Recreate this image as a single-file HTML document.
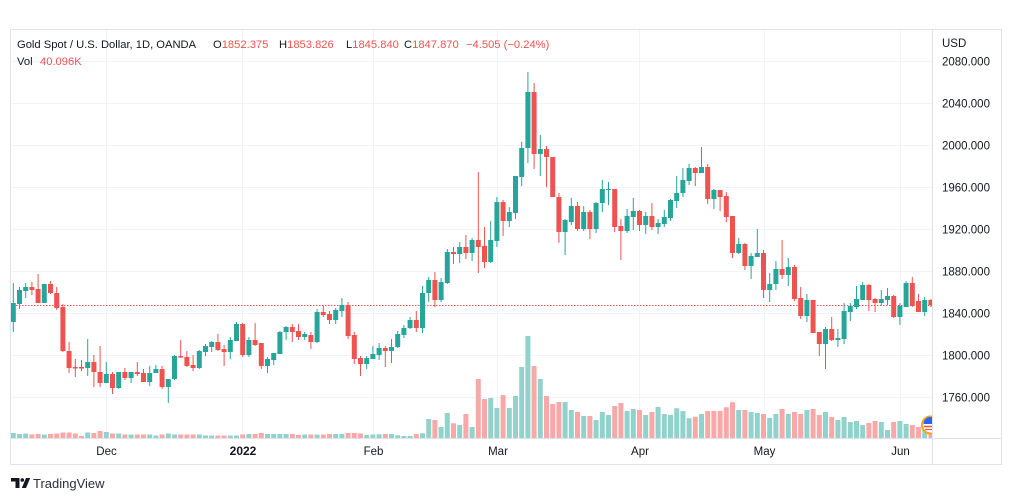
<!DOCTYPE html>
<html><head><meta charset="utf-8"><style>
html,body{margin:0;padding:0;background:#fff;width:1012px;height:501px;overflow:hidden}
svg{display:block;font-family:"Liberation Sans",Arial,sans-serif}
</style></head><body>
<svg width="1012" height="501" viewBox="0 0 1012 501" xmlns="http://www.w3.org/2000/svg">
<defs><clipPath id="pane"><rect x="10" y="29" width="922" height="409"/></clipPath></defs>
<rect width="1012" height="501" fill="#fff"/>
<g stroke="#f0f3fa" stroke-width="1" fill="none">
<path d="M10 61.5H932M10 103.5H932M10 145.5H932M10 187.5H932M10 229.5H932M10 271.5H932M10 313.5H932M10 355.5H932M10 397.5H932"/>
<path d="M106.5 29V438M242.5 29V438M373.5 29V438M497.5 29V438M639.5 29V438M764.5 29V438M900.5 29V438"/>
</g>
<g clip-path="url(#pane)">
<path fill="#92d2cc" d="M10.8 433h5V438h-5zM17 434h5V438h-5zM23.2 433.5h5V438h-5zM41.8 434.5h5V438h-5zM85.2 432.5h5V438h-5zM103.8 432h5V438h-5zM116.2 433.5h5V438h-5zM128.6 434.5h5V438h-5zM147.2 434.5h5V438h-5zM153.4 435.5h5V438h-5zM165.8 433.5h5V438h-5zM172 434.5h5V438h-5zM196.8 434.5h5V438h-5zM203 435.5h5V438h-5zM209.2 435.5h5V438h-5zM227.8 435.5h5V438h-5zM234 435.5h5V438h-5zM246.4 434h5V438h-5zM265 434h5V438h-5zM271.2 434h5V438h-5zM277.4 434h5V438h-5zM283.6 434h5V438h-5zM302.2 434.5h5V438h-5zM314.6 434.5h5V438h-5zM333.2 434h5V438h-5zM339.4 434h5V438h-5zM364.2 435h5V438h-5zM370.4 434.5h5V438h-5zM376.6 434.3h5V438h-5zM389 434h5V438h-5zM395.2 435.3h5V438h-5zM401.4 436h5V438h-5zM407.6 436h5V438h-5zM420 433.3h5V438h-5zM426.2 419h5V438h-5zM438.6 427h5V438h-5zM444.8 413h5V438h-5zM457.2 425h5V438h-5zM469.6 427h5V438h-5zM488.2 398h5V438h-5zM494.4 408h5V438h-5zM506.8 408h5V438h-5zM513 396h5V438h-5zM519.2 367h5V438h-5zM525.4 336h5V438h-5zM537.8 379h5V438h-5zM562.6 402h5V438h-5zM568.8 410h5V438h-5zM581.2 416h5V438h-5zM593.6 420h5V438h-5zM599.8 412h5V438h-5zM606 415h5V438h-5zM624.6 411h5V438h-5zM630.8 409h5V438h-5zM643.2 415h5V438h-5zM655.6 407h5V438h-5zM661.8 414h5V438h-5zM668 415h5V438h-5zM674.2 408.3h5V438h-5zM680.4 411h5V438h-5zM686.6 418.3h5V438h-5zM699 414h5V438h-5zM736.2 410h5V438h-5zM748.6 412h5V438h-5zM754.8 413h5V438h-5zM767.2 418h5V438h-5zM773.4 414h5V438h-5zM785.8 414h5V438h-5zM804.4 410h5V438h-5zM823 412h5V438h-5zM835.4 420h5V438h-5zM841.6 417h5V438h-5zM847.8 422h5V438h-5zM854 421h5V438h-5zM860.2 425h5V438h-5zM878.8 422h5V438h-5zM885 430h5V438h-5zM897.4 421h5V438h-5zM903.6 424h5V438h-5zM922.2 430h5V438h-5z"/>
<path fill="#f7a9a7" d="M29.4 434.5h5V438h-5zM35.6 434h5V438h-5zM48 434h5V438h-5zM54.2 433.5h5V438h-5zM60.4 432.5h5V438h-5zM66.6 432.5h5V438h-5zM72.8 433.5h5V438h-5zM79 436h5V438h-5zM91.4 433h5V438h-5zM97.6 431h5V438h-5zM110 433.5h5V438h-5zM122.4 434.5h5V438h-5zM134.8 434.5h5V438h-5zM141 434.5h5V438h-5zM159.6 434.5h5V438h-5zM178.2 434.5h5V438h-5zM184.4 434.5h5V438h-5zM190.6 434.5h5V438h-5zM215.4 435.5h5V438h-5zM221.6 435.5h5V438h-5zM240.2 434.5h5V438h-5zM252.6 434h5V438h-5zM258.8 433h5V438h-5zM289.8 434h5V438h-5zM296 435h5V438h-5zM308.4 434.5h5V438h-5zM320.8 434.5h5V438h-5zM327 434h5V438h-5zM345.6 433h5V438h-5zM351.8 433h5V438h-5zM358 433.5h5V438h-5zM382.8 434h5V438h-5zM413.8 434h5V438h-5zM432.4 420h5V438h-5zM451 423.3h5V438h-5zM463.4 414h5V438h-5zM475.8 379h5V438h-5zM482 399h5V438h-5zM500.6 395h5V438h-5zM531.6 366h5V438h-5zM544 396h5V438h-5zM550.2 404h5V438h-5zM556.4 402h5V438h-5zM575 412h5V438h-5zM587.4 416h5V438h-5zM612.2 406h5V438h-5zM618.4 403h5V438h-5zM637 410h5V438h-5zM649.4 412h5V438h-5zM692.8 416.7h5V438h-5zM705.2 411h5V438h-5zM711.4 411h5V438h-5zM717.6 411h5V438h-5zM723.8 407.3h5V438h-5zM730 402.3h5V438h-5zM742.4 410h5V438h-5zM761 414h5V438h-5zM779.6 409h5V438h-5zM792 412h5V438h-5zM798.2 414h5V438h-5zM810.6 409h5V438h-5zM816.8 415h5V438h-5zM829.2 417h5V438h-5zM866.4 423h5V438h-5zM872.6 421h5V438h-5zM891.2 422h5V438h-5zM909.8 425h5V438h-5zM916 427h5V438h-5zM928.4 433h5V438h-5z"/>
<path d="M10 305.5H932" stroke="#ef5350" stroke-width="1" stroke-dasharray="1.5 1.5" fill="none"/>
<path fill="#26a69a" d="M10.8 303h5V322h-5zM12.8 283h1V332h-1zM17 290h5V304h-5zM19 287h1V309h-1zM23.2 287h5V291h-5zM25.2 283h1V298h-1zM41.8 284h5V303h-5zM85.2 362h5V368h-5zM87.2 339h1V376h-1zM103.8 374h5V383h-5zM105.8 362h1V383h-1zM116.2 372h5V388h-5zM118.2 372h1V389h-1zM128.6 372h5V378h-5zM130.6 372h1V383h-1zM147.2 373h5V382h-5zM149.2 366h1V386h-1zM153.4 369h5V373h-5zM155.4 365h1V373h-1zM165.8 379h5V387h-5zM167.8 379h1V403h-1zM172 356h5V379h-5zM174 355h1V380h-1zM196.8 351h5V368h-5zM198.8 350h1V369h-1zM203 346h5V352h-5zM205 344h1V356h-1zM209.2 342h5V347h-5zM211.2 341h1V352h-1zM227.8 340h5V352h-5zM229.8 337h1V359h-1zM234 324h5V341h-5zM236 322h1V341h-1zM246.4 340h5V355h-5zM248.4 337h1V357h-1zM265 359h5V366h-5zM267 357h1V373h-1zM271.2 353h5V360h-5zM273.2 353h1V365h-1zM277.4 332h5V354h-5zM279.4 331h1V354h-1zM283.6 327h5V332h-5zM285.6 326h1V340h-1zM302.2 334h5V337h-5zM304.2 332h1V340h-1zM314.6 312h5V342h-5zM316.6 309h1V343h-1zM333.2 310h5V320h-5zM335.2 308h1V324h-1zM339.4 305h5V311h-5zM341.4 298h1V317h-1zM364.2 358h5V364h-5zM366.2 356h1V369h-1zM370.4 354h5V359h-5zM372.4 346h1V359h-1zM376.6 348h5V355h-5zM378.6 343h1V360h-1zM389 347h5V351h-5zM391 339h1V363h-1zM395.2 334h5V347h-5zM397.2 331h1V348h-1zM401.4 328h5V335h-5zM403.4 325h1V338h-1zM407.6 320h5V328h-5zM409.6 317h1V329h-1zM420 293h5V328h-5zM422 286h1V333h-1zM426.2 280h5V293h-5zM428.2 277h1V302h-1zM438.6 282h5V300h-5zM440.6 278h1V302h-1zM444.8 252h5V283h-5zM446.8 249h1V284h-1zM457.2 247h5V254h-5zM459.2 242h1V263h-1zM469.6 240h5V253h-5zM471.6 238h1V261h-1zM488.2 240h5V262h-5zM490.2 221h1V263h-1zM494.4 202h5V241h-5zM496.4 197h1V247h-1zM506.8 212h5V221h-5zM508.8 207h1V227h-1zM513 176h5V213h-5zM515 176h1V219h-1zM519.2 148h5V177h-5zM521.2 142h1V186h-1zM525.4 92h5V148h-5zM527.4 72h1V163h-1zM537.8 149h5V154h-5zM539.8 135h1V176h-1zM562.6 220h5V232h-5zM564.6 219h1V255h-1zM568.8 206h5V222h-5zM570.8 198h1V225h-1zM581.2 212h5V229h-5zM583.2 206h1V231h-1zM593.6 203h5V229h-5zM595.6 202h1V233h-1zM599.8 189h5V203h-5zM601.8 180h1V212h-1zM606 189h5V190h-5zM608 182h1V205h-1zM624.6 216h5V231h-5zM626.6 209h1V233h-1zM630.8 211h5V217h-5zM632.8 198h1V230h-1zM643.2 216h5V225h-5zM645.2 212h1V234h-1zM655.6 223h5V227h-5zM657.6 219h1V234h-1zM661.8 217h5V224h-5zM663.8 210h1V227h-1zM668 200h5V218h-5zM670 199h1V221h-1zM674.2 193h5V201h-5zM676.2 176h1V208h-1zM680.4 180h5V193h-5zM682.4 168h1V197h-1zM686.6 168h5V181h-5zM688.6 164h1V185h-1zM699 167h5V173h-5zM701 147h1V173h-1zM711.4 190h5V199h-5zM713.4 189h1V209h-1zM736.2 244h5V253h-5zM738.2 238h1V254h-1zM748.6 256h5V266h-5zM750.6 253h1V279h-1zM754.8 253h5V257h-5zM756.8 229h1V257h-1zM767.2 284h5V290h-5zM769.2 273h1V302h-1zM773.4 269h5V284h-5zM775.4 261h1V290h-1zM785.8 267h5V275h-5zM787.8 258h1V286h-1zM804.4 300h5V316h-5zM806.4 294h1V322h-1zM823 329h5V344h-5zM825 327h1V369h-1zM835.4 338h5V340h-5zM837.4 329h1V347h-1zM841.6 311h5V339h-5zM843.6 303h1V344h-1zM847.8 306h5V312h-5zM849.8 303h1V321h-1zM854 299h5V307h-5zM856 286h1V309h-1zM860.2 285h5V300h-5zM862.2 282h1V300h-1zM878.8 299h5V303h-5zM880.8 290h1V306h-1zM885 296h5V300h-5zM887 288h1V305h-1zM897.4 306h5V317h-5zM899.4 303h1V325h-1zM903.6 283h5V307h-5zM905.6 281h1V307h-1zM922.2 300h5V312h-5zM924.2 297h1V316h-1z"/>
<path fill="#ef5350" d="M29.4 287h5V290h-5zM31.4 282h1V295h-1zM35.6 289h5V303h-5zM37.6 274h1V303h-1zM48 284h5V293h-5zM50 281h1V294h-1zM54.2 293h5V308h-5zM56.2 287h1V310h-1zM60.4 307h5V351h-5zM62.4 304h1V352h-1zM66.6 351h5V368h-5zM68.6 342h1V373h-1zM72.8 367h5V368.5h-5zM74.8 359h1V377h-1zM79 367h5V368.5h-5zM81 360h1V371h-1zM91.4 362h5V372h-5zM93.4 355h1V387h-1zM97.6 372h5V383h-5zM99.6 346h1V387h-1zM110 374h5V388h-5zM112 372h1V394h-1zM122.4 372h5V378h-5zM124.4 368h1V380h-1zM134.8 372h5V374h-5zM136.8 362h1V376h-1zM141 373h5V382h-5zM143 369h1V382h-1zM159.6 369h5V387h-5zM161.6 366h1V389h-1zM178.2 356h5V357.5h-5zM180.2 340h1V358h-1zM184.4 357h5V366h-5zM186.4 351h1V367h-1zM190.6 365h5V368h-5zM192.6 355h1V371h-1zM215.4 342h5V350h-5zM217.4 334h1V351h-1zM221.6 349h5V352h-5zM223.6 345h1V366h-1zM240.2 324h5V355h-5zM242.2 323h1V357h-1zM252.6 340h5V345h-5zM254.6 323h1V346h-1zM258.8 343h5V366h-5zM260.8 343h1V369h-1zM289.8 327h5V332h-5zM291.8 324h1V342h-1zM296 331h5V337h-5zM298 324h1V340h-1zM308.4 335h5V342h-5zM310.4 332h1V349h-1zM320.8 312h5V315h-5zM322.8 305h1V317h-1zM327 314h5V320h-5zM329 311h1V324h-1zM345.6 305h5V336h-5zM347.6 302h1V339h-1zM351.8 335h5V359h-5zM353.8 332h1V364h-1zM358 358h5V364h-5zM360 356h1V376h-1zM382.8 348h5V351h-5zM384.8 346h1V367h-1zM413.8 320h5V328h-5zM415.8 311h1V332h-1zM432.4 280h5V300h-5zM434.4 272h1V307h-1zM451 252h5V254h-5zM453 247h1V264h-1zM463.4 247h5V253h-5zM465.4 235h1V259h-1zM475.8 240h5V247h-5zM477.8 172h1V273h-1zM482 246h5V262h-5zM484 227h1V268h-1zM500.6 202h5V221h-5zM502.6 200h1V236h-1zM531.6 92h5V154h-5zM533.6 83h1V169h-1zM544 149h5V157h-5zM546 146h1V187h-1zM550.2 157h5V197h-5zM556.4 197h5V232h-5zM558.4 193h1V243h-1zM575 206h5V229h-5zM577 202h1V231h-1zM587.4 212h5V229h-5zM589.4 210h1V239h-1zM612.2 189h5V227h-5zM614.2 189h1V232h-1zM618.4 226h5V231h-5zM620.4 219h1V260h-1zM637 211h5V225h-5zM639 210h1V231h-1zM649.4 216h5V227h-5zM651.4 203h1V230h-1zM692.8 168h5V173h-5zM694.8 167h1V186h-1zM705.2 167h5V199h-5zM707.2 164h1V204h-1zM717.6 190h5V197h-5zM719.6 190h1V211h-1zM723.8 196h5V217h-5zM725.8 192h1V222h-1zM730 216h5V253h-5zM732 216h1V258h-1zM742.4 244h5V266h-5zM744.4 243h1V270h-1zM761 253h5V290h-5zM763 250h1V298h-1zM779.6 269h5V275h-5zM781.6 240h1V279h-1zM792 267h5V299h-5zM794 265h1V301h-1zM798.2 298h5V316h-5zM800.2 287h1V319h-1zM810.6 300h5V333h-5zM816.8 332h5V344h-5zM818.8 332h1V356h-1zM829.2 329h5V340h-5zM831.2 317h1V341h-1zM866.4 285h5V300h-5zM868.4 284h1V311h-1zM872.6 299h5V303h-5zM874.6 298h1V312h-1zM891.2 296h5V317h-5zM893.2 295h1V318h-1zM909.8 283h5V306h-5zM911.8 277h1V307h-1zM916 301h5V312h-5zM918 294h1V312h-1zM928.4 300h5V305h-5zM930.4 299h1V307h-1z"/>
<g>
<circle cx="930.5" cy="425" r="8.5" fill="#fff" stroke="#f7a21b" stroke-width="2"/>
<path d="M923.5 424a7 7 0 0 1 14 0z" fill="#2962ff"/>
<path d="M923.8 426.5h13.4" stroke="#ef5350" stroke-width="1.6"/>
<path d="M925 429.5h11" stroke="#ef5350" stroke-width="1.2"/>
</g>
</g>
<g fill="none" stroke="#e0e3eb" stroke-width="1">
<rect x="10.5" y="29.5" width="991" height="435"/>
<path d="M932.5 29V464M10 438.5H1001"/>
</g>
<g font-size="11.5" fill="#131722">
<text x="942" y="47">USD</text>
<text x="942" y="65.6">2080.000</text>
<text x="942" y="107.5">2040.000</text>
<text x="942" y="149.5">2000.000</text>
<text x="942" y="191.5">1960.000</text>
<text x="942" y="233.5">1920.000</text>
<text x="942" y="275.5">1880.000</text>
<text x="942" y="317.5">1840.000</text>
<text x="942" y="359.5">1800.000</text>
<text x="942" y="401.5">1760.000</text>
</g>
<g font-size="11.5" fill="#131722" text-anchor="middle">
<text x="106.5" y="455">Dec</text>
<text x="243" y="455" font-weight="bold" font-size="12">2022</text>
<text x="373.5" y="455">Feb</text>
<text x="498" y="455">Mar</text>
<text x="640" y="455">Apr</text>
<text x="764.5" y="455">May</text>
<text x="900.5" y="455">Jun</text>
</g>
<g font-size="11.2" fill="#131722">
<text x="17" y="48">Gold Spot / U.S. Dollar, 1D, OANDA</text>
<text x="213" y="48">O<tspan fill="#ef5350">1852.375</tspan></text>
<text x="279" y="48">H<tspan fill="#ef5350">1853.826</tspan></text>
<text x="346" y="48">L<tspan fill="#ef5350">1845.840</tspan></text>
<text x="404" y="48">C<tspan fill="#ef5350">1847.870</tspan></text>
<text x="466" y="48" fill="#ef5350">−4.505 (−0.24%)</text>
<text x="17" y="65">Vol</text>
<text x="40" y="65" fill="#ef5350">40.096K</text>
</g>
<g fill="#131722">
<path d="M11 478h8.5v10h-4v-6.5h-4.5z"/>
<circle cx="22.3" cy="480" r="1.8"/>
<path d="M26 478h4.2l-4.2 10h-4.2z"/>
<text x="33" y="488" font-size="13" fill="#2a2e39">TradingView</text>
</g>
</svg>
</body></html>
